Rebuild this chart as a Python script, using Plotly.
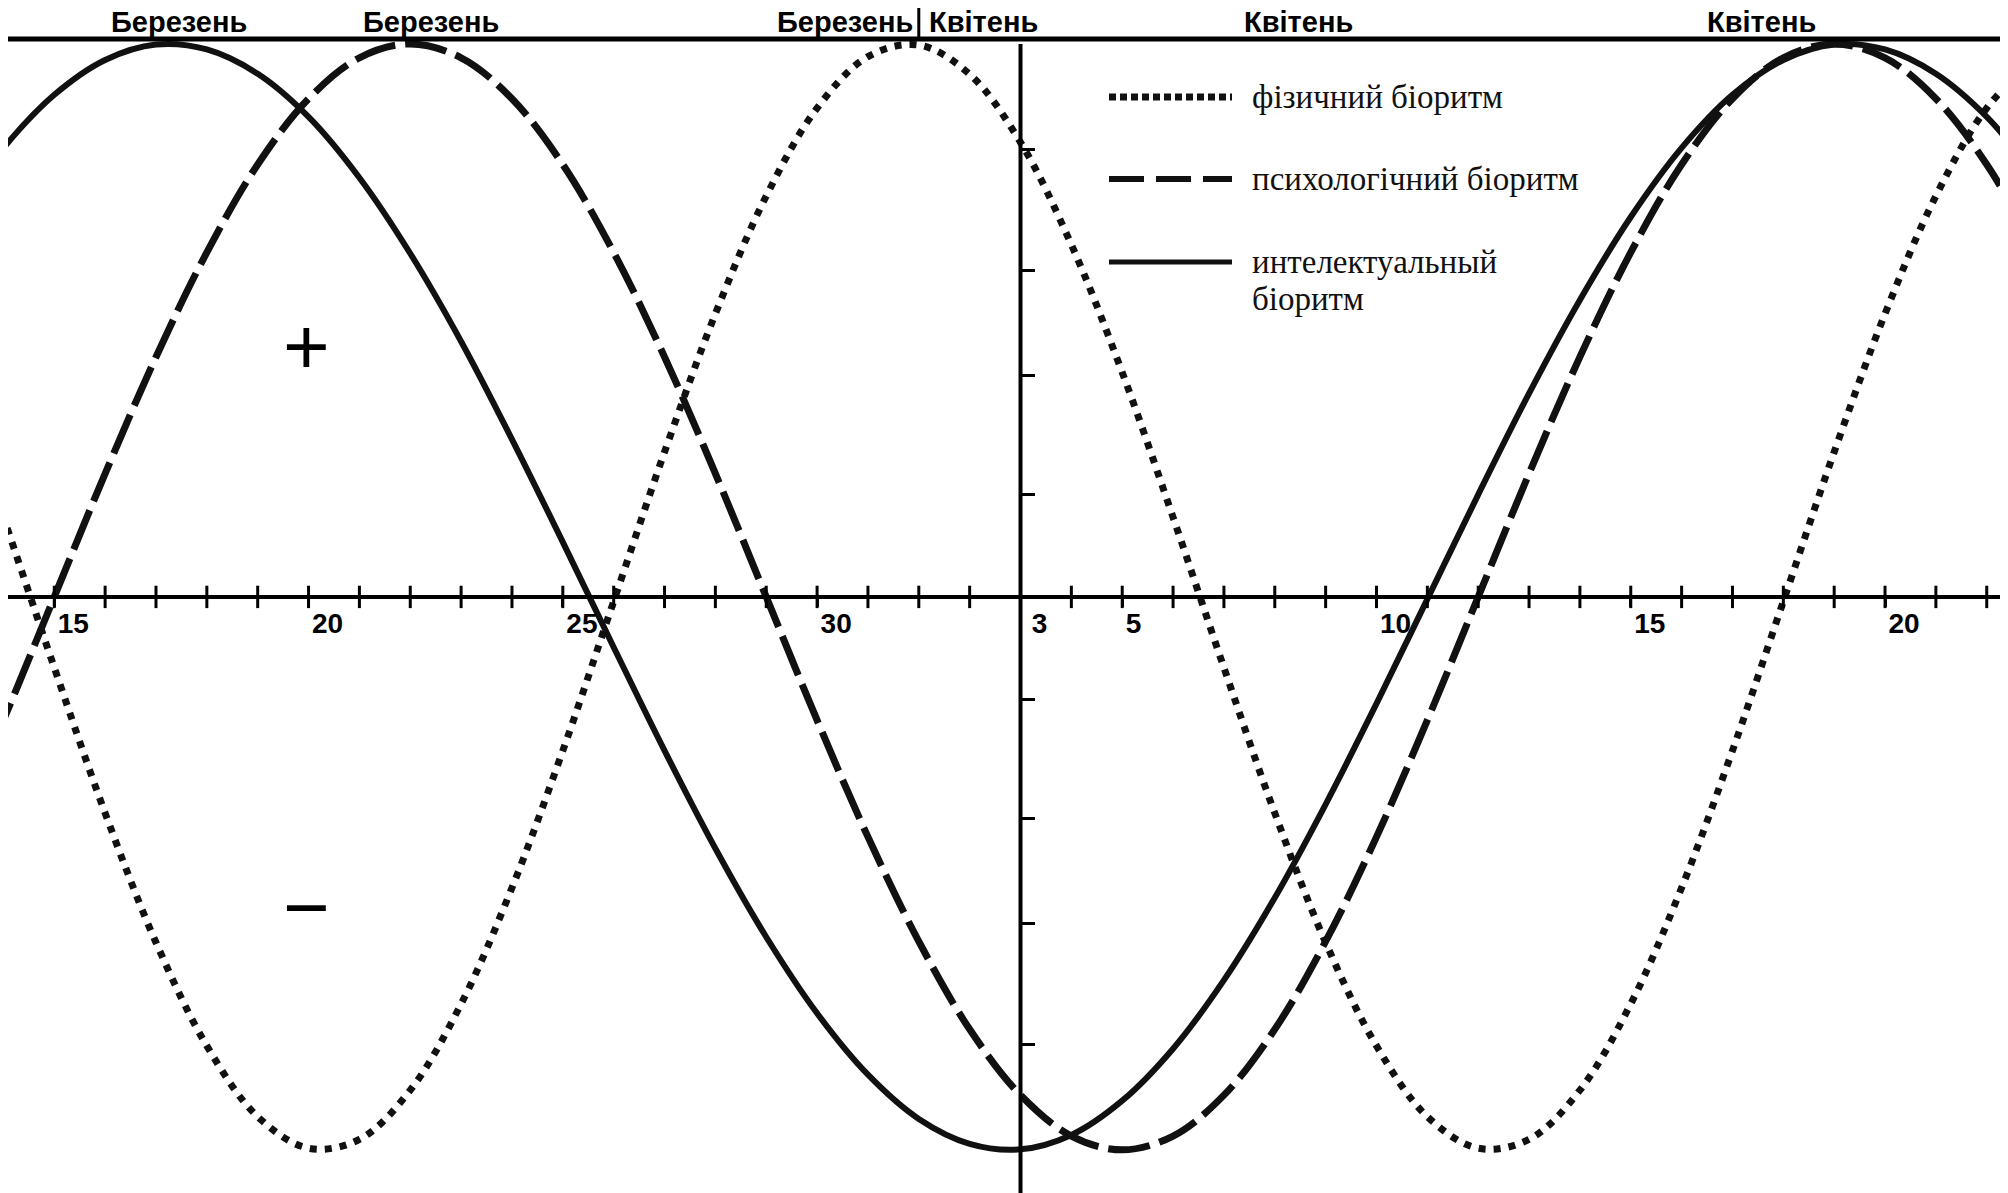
import plotly.graph_objects as go

# day index: March d -> d, April d -> 31 + d
DAYS = list(range(13, 55))

PHYSICAL = [0.406, 0.144, -0.128, -0.391, -0.625, -0.812, -0.940, -0.997, -0.981, -0.892,
            -0.736, -0.526, -0.278, -0.008, 0.262, 0.512, 0.725, 0.884, 0.977, 0.998,
            0.945, 0.822, 0.637, 0.406, 0.144, -0.128, -0.391, -0.625, -0.812, -0.940,
            -0.997, -0.981, -0.892, -0.736, -0.526, -0.278, -0.008, 0.262, 0.512, 0.725,
            0.884, 0.977]
PSYCHOLOGICAL = [-0.434, -0.223, 0.0, 0.223, 0.434, 0.623, 0.782, 0.901, 0.975, 1.0,
                 0.975, 0.901, 0.782, 0.623, 0.434, 0.223, 0.0, -0.223, -0.434, -0.623,
                 -0.782, -0.901, -0.975, -1.0, -0.975, -0.901, -0.782, -0.623, -0.434, -0.223,
                 0.0, 0.223, 0.434, 0.623, 0.782, 0.901, 0.975, 1.0, 0.975, 0.901,
                 0.782, 0.623]
INTELLECTUAL = [0.687, 0.812, 0.908, 0.971, 0.999, 0.990, 0.946, 0.868, 0.758, 0.621,
                0.462, 0.285, 0.099, -0.091, -0.278, -0.455, -0.615, -0.753, -0.864, -0.944,
                -0.989, -0.999, -0.973, -0.911, -0.817, -0.693, -0.544, -0.375, -0.193, -0.004,
                0.185, 0.368, 0.537, 0.687, 0.812, 0.908, 0.971, 0.999, 0.990, 0.946,
                0.868, 0.758]

TICK_VALS = [15, 20, 25, 30, 34, 36, 41, 46, 51]
TICK_TEXT = ["15", "20", "25", "30", "\u00a03", "5", "10", "15", "20"]
DAY_TICKS = list(range(14, 54))
Y_TICKS = [-0.81, -0.59, -0.4, -0.185, 0.185, 0.4, 0.59, 0.81]

MONTH_TEXT = ["Березень", "Березень", "Березень", "Квітень", "Квітень", "Квітень"]
MONTH_POS = [17.46, 22.40, 30.55, 33.27, 39.47, 48.58]

LEGEND_TEXT = ["фізичний біоритм", "психологічний біоритм", "интелектуальный"]
LEGEND_TEXT_2 = "біоритм"

TODAY = 34          # April 3 – vertical axis
MONTH_BOUNDARY = 32  # April 1
X_RANGE = [14.09, 53.3]
Y_RANGE = [-1.078, 1.065]
TOP = 1.009

# the page body adds an 8px offset, so the figure is 8px smaller than the window
OFF = 8
W, H = 2000, 1185
ML, MR = 0, 6

SANS = "Liberation Sans, Arial, sans-serif"
SERIF = "Liberation Serif, Times New Roman, serif"

fig = go.Figure()

fig.add_trace(go.Scatter(x=DAYS, y=PHYSICAL, mode="lines", line_shape="spline",
                         line=dict(color="#111", width=7, dash="7px,8px")))
fig.add_trace(go.Scatter(x=DAYS, y=PSYCHOLOGICAL, mode="lines", line_shape="spline",
                         line=dict(color="#111", width=7, dash="42px,10px")))
fig.add_trace(go.Scatter(x=DAYS, y=INTELLECTUAL, mode="lines", line_shape="spline",
                         line=dict(color="#111", width=6)))

# day ticks crossing the horizontal axis
fig.add_trace(go.Scatter(x=DAY_TICKS, y=[0] * len(DAY_TICKS), mode="markers",
                         cliponaxis=False, hoverinfo="skip",
                         marker=dict(symbol="line-ns", size=16,
                                     line=dict(color="black", width=3))))

y0_frac = (0 - Y_RANGE[0]) / (Y_RANGE[1] - Y_RANGE[0])
x0_frac = (TODAY - X_RANGE[0]) / (X_RANGE[1] - X_RANGE[0])

shapes = [
    dict(type="line", xref="x", yref="y", x0=X_RANGE[0], x1=X_RANGE[1], y0=TOP, y1=TOP,
         line=dict(color="black", width=5)),
    dict(type="line", xref="x", yref="y", x0=TODAY, x1=TODAY, y0=1.0, y1=Y_RANGE[0],
         line=dict(color="black", width=4)),
    dict(type="line", xref="x", yref="paper", x0=MONTH_BOUNDARY, x1=MONTH_BOUNDARY,
         y0=1.0, y1=(TOP - Y_RANGE[0]) / (Y_RANGE[1] - Y_RANGE[0]),
         line=dict(color="black", width=3)),
]

annotations = []
for txt, pos in zip(MONTH_TEXT, MONTH_POS):
    annotations.append(dict(x=pos, y=TOP, xref="x", yref="y", text=txt, showarrow=False,
                            xanchor="center", yanchor="bottom", yshift=0, borderpad=0,
                            font=dict(family=SANS, size=29, color="black", weight="bold")))


# legend drawn by hand (long samples); positions in window pixels
def px_x(px):
    return (px - OFF - ML) / (W - ML - MR)


def px_y(py):
    return 1 - (py - OFF) / H


legend_rows = [97, 179, 262]
legend_dash = ["7px,4px", "35px,12px", "solid"]
legend_width = [7, 6, 5]
for row, dash, lw, txt in zip(legend_rows, legend_dash, legend_width, LEGEND_TEXT):
    shapes.append(dict(type="line", xref="paper", yref="paper",
                       x0=px_x(1109), x1=px_x(1232), y0=px_y(row), y1=px_y(row),
                       line=dict(color="#111", width=lw, dash=dash)))
    annotations.append(dict(x=px_x(1250), y=px_y(row), xref="paper", yref="paper",
                            text=txt, showarrow=False, xanchor="left",
                            yanchor="middle", yshift=0,
                            font=dict(family=SERIF, size=33, color="#111")))
annotations.append(dict(x=px_x(1250), y=px_y(299), xref="paper", yref="paper",
                        text=LEGEND_TEXT_2, showarrow=False, xanchor="left",
                        yanchor="middle", font=dict(family=SERIF, size=33, color="#111")))

annotations.append(dict(x=px_x(306), y=px_y(346), xref="paper", yref="paper", text="+",
                        showarrow=False, xanchor="center", yanchor="middle",
                        font=dict(family=SANS, size=80, color="black")))
annotations.append(dict(x=px_x(306), y=px_y(907), xref="paper", yref="paper", text="\u2212",
                        showarrow=False, xanchor="center", yanchor="middle",
                        font=dict(family=SANS, size=80, color="black")))

fig.update_layout(
    width=W, height=H,
    margin=dict(l=ML, r=MR, t=0, b=0, pad=0),
    plot_bgcolor="white", paper_bgcolor="white",
    showlegend=False,
    shapes=shapes,
    annotations=annotations,
    xaxis=dict(range=X_RANGE, anchor="free", position=y0_frac, automargin=False,
               showline=True, linewidth=4, linecolor="black",
               showgrid=False, zeroline=False,
               tickmode="array", tickvals=TICK_VALS, ticktext=TICK_TEXT,
               ticks="outside", ticklen=8, tickwidth=3, tickcolor="black",
               ticklabelposition="outside right",
               tickfont=dict(family=SANS, size=28, color="black", weight="bold")),
    yaxis=dict(range=Y_RANGE, anchor="free", position=x0_frac, side="right",
               automargin=False,
               showline=False, showgrid=False, zeroline=False,
               tickmode="array", tickvals=Y_TICKS, showticklabels=False,
               ticks="outside", ticklen=13, tickwidth=3, tickcolor="black"),
)

fig.write_html("out.html")
